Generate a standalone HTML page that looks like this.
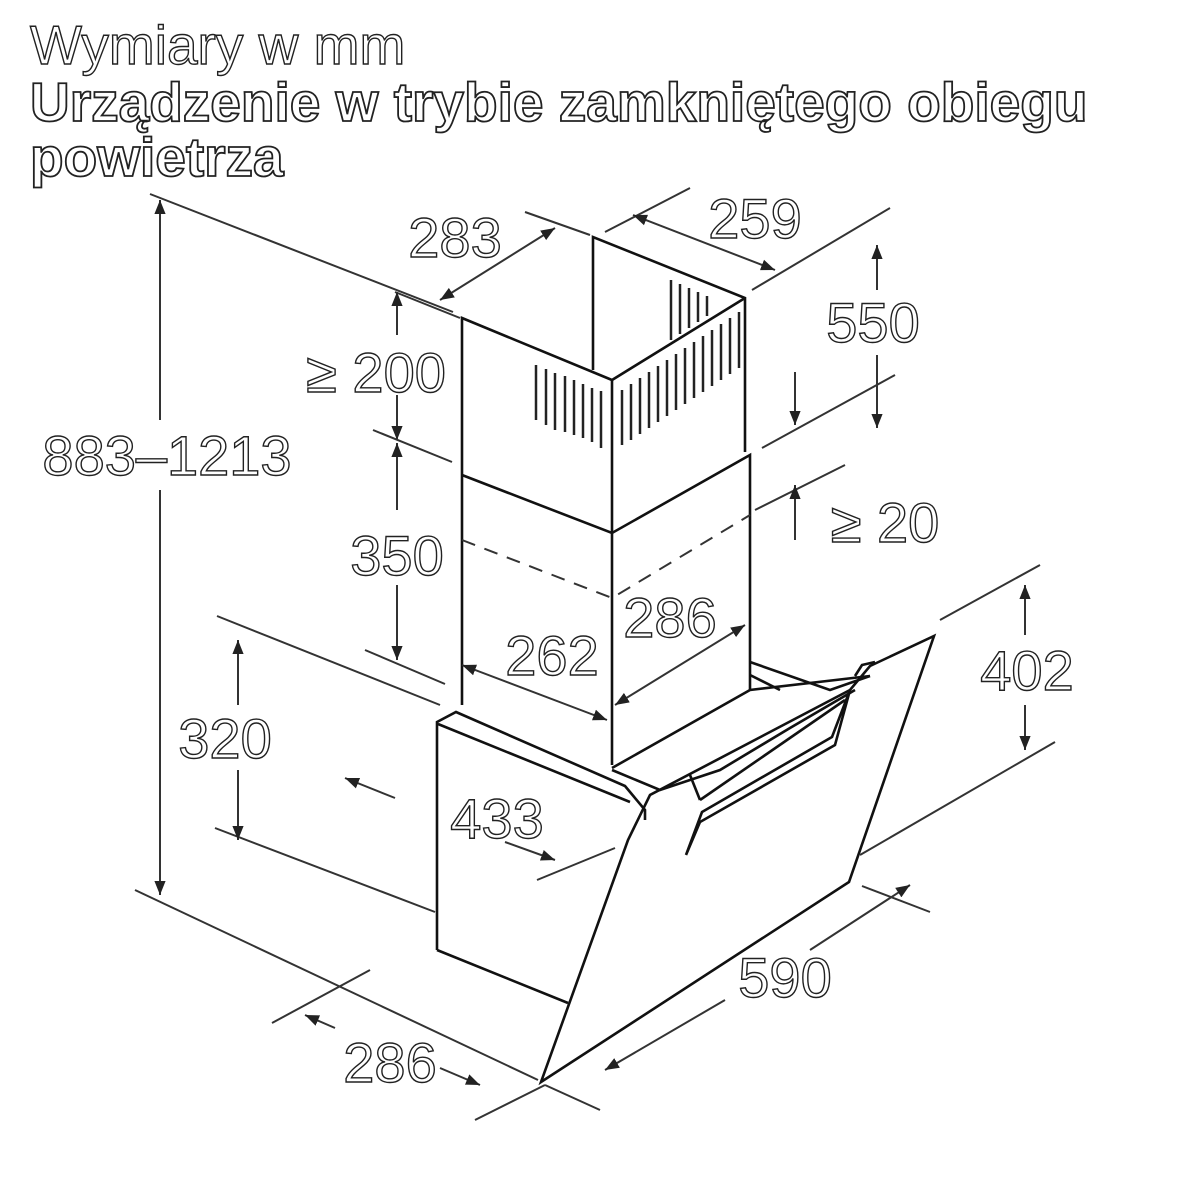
<!DOCTYPE html>
<html><head><meta charset="utf-8"><style>
html,body{margin:0;padding:0;background:#fff;width:1200px;height:1200px;overflow:hidden}
svg{display:block}
text{font-family:"Liberation Sans",sans-serif;fill:#fff;stroke:#222;stroke-width:1.4px}
.t{font-size:55px}
.b{font-size:55px;font-weight:bold;stroke-width:1.8px}
.d{font-size:56px;text-anchor:middle}
.l{stroke:#333;stroke-width:2;fill:none}
.k{stroke:#111;stroke-width:2.6;fill:none}
.s{stroke:#222;stroke-width:2.5;fill:none}
</style></head><body>
<svg width="1200" height="1200" viewBox="0 0 1200 1200" xmlns="http://www.w3.org/2000/svg">
<defs>
<marker id="a" viewBox="0 0 10 10" refX="10" refY="5" markerWidth="14" markerHeight="14" markerUnits="userSpaceOnUse" orient="auto-start-reverse">
<path d="M0,1 L10,5 L0,9 z" fill="#222"/></marker>
</defs>
<text class="t" x="30" y="64">Wymiary w mm</text>
<text class="b" x="30" y="121">Urządzenie w trybie zamkniętego obiegu</text>
<text class="b" x="30" y="176">powietrza</text>

<!-- chimney -->
<g class="k">
<polyline points="593,370 593,237 745,298 745,452"/>
<polyline points="462,705 462,318 612,380 745,298"/>
<line x1="612" y1="380" x2="612" y2="765"/>
<polyline points="462,475 612,533 750,455 750,690"/>
</g>
<g class="l" stroke-dasharray="14,10"><polyline points="462,540 612,598 750,515"/></g>
<g class="s" stroke-width="3">
<line x1="536" y1="365" x2="536" y2="420"/><line x1="546" y1="369" x2="546" y2="425"/>
<line x1="555" y1="373" x2="555" y2="430"/><line x1="565" y1="376" x2="565" y2="432"/>
<line x1="574" y1="380" x2="574" y2="435"/><line x1="583" y1="384" x2="583" y2="438"/>
<line x1="592" y1="388" x2="592" y2="442"/><line x1="601" y1="391" x2="601" y2="448"/>
<line x1="622" y1="390" x2="622" y2="445"/><line x1="631" y1="384" x2="631" y2="440"/>
<line x1="640" y1="378" x2="640" y2="434"/><line x1="649" y1="372" x2="649" y2="428"/>
<line x1="658" y1="366" x2="658" y2="422"/><line x1="667" y1="360" x2="667" y2="416"/>
<line x1="676" y1="354" x2="676" y2="410"/><line x1="685" y1="348" x2="685" y2="404"/>
<line x1="694" y1="342" x2="694" y2="398"/><line x1="703" y1="336" x2="703" y2="392"/>
<line x1="712" y1="330" x2="712" y2="386"/><line x1="721" y1="324" x2="721" y2="380"/>
<line x1="730" y1="318" x2="730" y2="374"/><line x1="739" y1="312" x2="739" y2="368"/>
<line x1="671" y1="280" x2="671" y2="340"/><line x1="680" y1="284" x2="680" y2="334"/>
<line x1="689" y1="288" x2="689" y2="328"/><line x1="698" y1="292" x2="698" y2="322"/>
<line x1="707" y1="296" x2="707" y2="316"/>
</g>

<!-- hood -->
<g class="k">
<polyline points="437,950 437,722 456,712 625,786 645,810 645,820"/>
<line x1="438" y1="724" x2="630" y2="802"/>
<line x1="437" y1="950" x2="568" y2="1003"/>
<polygon points="541,1082 849,882 934,636 870,666 850,690 650,795 628,840"/>
<polyline points="612,768 750,690 870,676"/>
<polyline points="750,662 830,690 870,676"/>
<polyline points="750,675 780,690"/>
<polyline points="612,770 660,790 690,780 720,770 790,728 855,690"/>
<polygon points="850,690 835,745 700,822 686,855 702,812 832,737"/>
<line x1="845" y1="700" x2="700" y2="800"/>
<line x1="690" y1="775" x2="700" y2="800"/>
<polyline points="855,676 862,665 875,662"/>
</g>

<!-- dimensions -->
<g class="l">
<line x1="150" y1="194" x2="453" y2="312"/>
<line x1="160" y1="200" x2="160" y2="420" marker-start="url(#a)"/>
<line x1="160" y1="490" x2="160" y2="895" marker-end="url(#a)"/>
<line x1="135" y1="890" x2="538" y2="1080"/>

<line x1="395" y1="292" x2="460" y2="318"/>
<line x1="525" y1="212" x2="590" y2="235"/>
<line x1="440" y1="300" x2="555" y2="228" marker-start="url(#a)" marker-end="url(#a)"/>

<line x1="605" y1="232" x2="690" y2="188"/>
<line x1="752" y1="290" x2="890" y2="208"/>
<line x1="633" y1="215" x2="775" y2="270" marker-start="url(#a)" marker-end="url(#a)"/>

<line x1="877" y1="245" x2="877" y2="290" marker-start="url(#a)"/>
<line x1="877" y1="355" x2="877" y2="428" marker-end="url(#a)"/>
<line x1="762" y1="448" x2="895" y2="375"/>
<line x1="755" y1="510" x2="845" y2="465"/>
<line x1="795" y1="372" x2="795" y2="425" marker-end="url(#a)"/>
<line x1="795" y1="540" x2="795" y2="485" marker-end="url(#a)"/>

<line x1="397" y1="292" x2="397" y2="335" marker-start="url(#a)"/>
<line x1="397" y1="395" x2="397" y2="440" marker-end="url(#a)"/>
<line x1="373" y1="430" x2="452" y2="462"/>
<line x1="397" y1="443" x2="397" y2="510" marker-start="url(#a)"/>
<line x1="397" y1="585" x2="397" y2="660" marker-end="url(#a)"/>
<line x1="365" y1="650" x2="445" y2="684"/>

<line x1="217" y1="616" x2="440" y2="705"/>
<line x1="215" y1="828" x2="435" y2="912"/>
<line x1="238" y1="640" x2="238" y2="705" marker-start="url(#a)"/>
<line x1="238" y1="770" x2="238" y2="840" marker-end="url(#a)"/>

<line x1="345" y1="778" x2="395" y2="798" marker-start="url(#a)"/>
<line x1="505" y1="842" x2="555" y2="860" marker-end="url(#a)"/>
<line x1="537" y1="880" x2="615" y2="848"/>

<line x1="462" y1="665" x2="607" y2="720" marker-start="url(#a)" marker-end="url(#a)"/>
<line x1="615" y1="705" x2="745" y2="625" marker-start="url(#a)" marker-end="url(#a)"/>

<line x1="940" y1="620" x2="1040" y2="565"/>
<line x1="860" y1="855" x2="1055" y2="742"/>
<line x1="1025" y1="585" x2="1025" y2="635" marker-start="url(#a)"/>
<line x1="1025" y1="705" x2="1025" y2="750" marker-end="url(#a)"/>

<line x1="862" y1="886" x2="930" y2="912"/>
<line x1="545" y1="1085" x2="600" y2="1110"/>
<line x1="605" y1="1070" x2="725" y2="1000" marker-start="url(#a)"/>
<line x1="810" y1="950" x2="910" y2="885" marker-end="url(#a)"/>

<line x1="272" y1="1023" x2="370" y2="970"/>
<line x1="475" y1="1120" x2="545" y2="1085"/>
<line x1="305" y1="1015" x2="335" y2="1028" marker-start="url(#a)"/>
<line x1="440" y1="1068" x2="480" y2="1085" marker-end="url(#a)"/>
</g>

<g class="d">
<text x="167" y="475">883–1213</text>
<text x="455" y="257">283</text>
<text x="755" y="238">259</text>
<text x="873" y="342">550</text>
<text x="376" y="392">≥ 200</text>
<text x="397" y="575">350</text>
<text x="885" y="542">≥ 20</text>
<text x="552" y="675">262</text>
<text x="670" y="637">286</text>
<text x="1027" y="690">402</text>
<text x="225" y="758">320</text>
<text x="497" y="838">433</text>
<text x="785" y="997">590</text>
<text x="390" y="1082">286</text>
</g>
</svg>
</body></html>
